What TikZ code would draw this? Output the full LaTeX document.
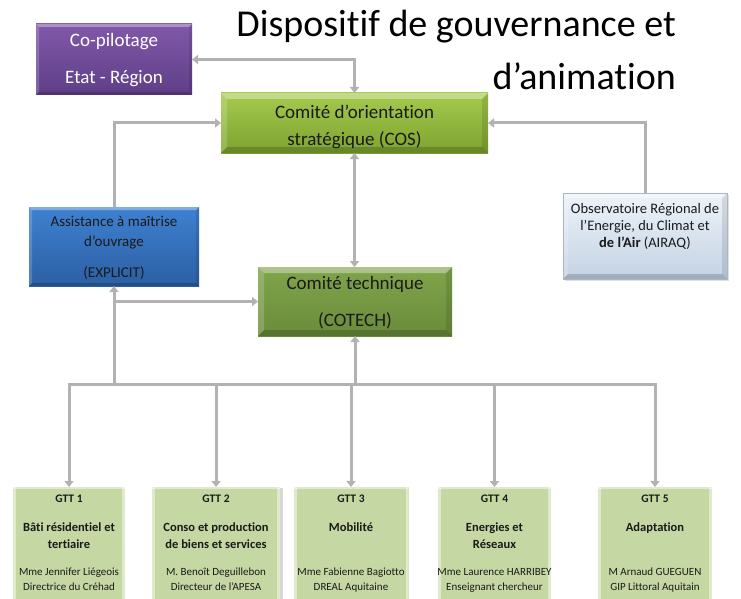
\documentclass[tikz,border=0pt]{standalone}
\usepackage{fontspec}
\setmainfont{Carlito}[Ligatures={TeX,CommonOff}]
\usetikzlibrary{arrows.meta,calc,shadows}

\definecolor{linkgray}{HTML}{B2B2B2}
\definecolor{copA}{HTML}{8059A9}
\definecolor{copB}{HTML}{5F3E87}
\definecolor{cosA}{HTML}{A5CA4C}
\definecolor{cosB}{HTML}{7DA331}
\definecolor{cotA}{HTML}{80A44B}
\definecolor{cotB}{HTML}{6A8C3B}
\definecolor{amoA}{HTML}{3E81D1}
\definecolor{amoB}{HTML}{2C5FA3}
\definecolor{obsA}{HTML}{EEF3F9}
\definecolor{obsB}{HTML}{C3D2E3}
\definecolor{obsLine}{HTML}{A6B7CA}
\definecolor{gttFill}{HTML}{C5D8A3}
\definecolor{inkdark}{HTML}{1A1A1A}

\tikzset{
  gtip/.tip={Triangle[width=9pt,length=6pt]},
  box/.style={rectangle, inner sep=0pt, outer sep=0pt},
  % light upper/left edges and darker lower/right edges of a bevelled box
  bevel/.style={path picture={
    \path (path picture bounding box.south west) coordinate (pA)
          (path picture bounding box.north east) coordinate (pB);
    \fill[white,opacity=.35] (pA|-pB) -- (pB) -- ($(pB)+(-#1,-#1)$) -- ($(pA|-pB)+(#1,-#1)$) -- cycle;
    \fill[white,opacity=.18] (pA) -- (pA|-pB) -- ($(pA|-pB)+(#1,-#1)$) -- ($(pA)+(#1,#1)$) -- cycle;
    \fill[black,opacity=.10] (pB|-pA) -- (pB) -- ($(pB)+(-#1,-#1)$) -- ($(pB|-pA)+(-#1,#1)$) -- cycle;
    \fill[black,opacity=.18] (pA) -- (pB|-pA) -- ($(pB|-pA)+(-#1,#1)$) -- ($(pA)+(#1,#1)$) -- cycle;
  }},
  gttbox/.style={box, fill=gttFill, minimum height=153pt, path picture={
    \path (path picture bounding box.south west) coordinate (pA)
          (path picture bounding box.north east) coordinate (pB);
    \fill[white,opacity=.45] (pA) rectangle ($(pA|-pB)+(3pt,0pt)$);
    \fill[white,opacity=.45] (pB) rectangle ($(pB|-pA)+(-3pt,0pt)$);
    \fill[white,opacity=.45] (pA|-pB) rectangle ($(pB)+(0pt,-2pt)$);
  }},
  link/.style={draw=linkgray, line width=3pt},
  % multi-line texts are placed by the baseline of their last line
  boxtext/.style={anchor=base, align=center, inner sep=0pt},
  gttnum/.style={boxtext, font=\fontsize{11.5}{14}\selectfont\bfseries, text=inkdark},
  gtttitle/.style={boxtext, font=\fontsize{12.5}{17}\selectfont\bfseries, text=inkdark},
  gttwho/.style={boxtext, font=\fontsize{11}{15}\selectfont, text=inkdark},
}

\begin{document}
\begin{tikzpicture}[x=1pt,y=-1pt]
\useasboundingbox[fill=white] (0,0) rectangle (741,599);

% title
\node[anchor=base east, inner sep=0pt, font=\fontsize{38}{44}\selectfont] (title1) at (676,37) {Dispositif de gouvernance et};
\node[anchor=base east, inner sep=0pt, font=\fontsize{38}{44}\selectfont] (title2) at (676,90) {d’animation};

% upper boxes
\node[box, bevel=3pt, top color=copA, bottom color=copB, minimum width=156pt, minimum height=71pt] (copil) at (114,59.5) {};
\node[boxtext, font=\fontsize{19}{37}\selectfont, text=white] (copil-t) at (114,84) {Co-pilotage\\Etat - Région};

\node[box, bevel=6pt, top color=cosA, bottom color=cosB, minimum width=267pt, minimum height=60pt] (cos) at (354.5,123) {};
\node[boxtext, font=\fontsize{19}{28}\selectfont, text=inkdark] (cos-t) at (354.5,146) {Comité d’orientation\\stratégique (COS)};

\node[box, bevel=3pt, top color=amoA, bottom color=amoB, minimum width=170pt, minimum height=79pt] (amo) at (114,246.5) {};
\node[boxtext, font=\fontsize{15}{20}\selectfont, text=inkdark] (amo-t) at (114,277) {Assistance à maîtrise\\d’ouvrage\\[11pt](EXPLICIT)};

\node[box, bevel=6pt, top color=cotA, bottom color=cotB, minimum width=194pt, minimum height=69pt] (cotech) at (355,301.5) {};
\node[boxtext, font=\fontsize{19}{37}\selectfont, text=inkdark] (cotech-t) at (355,326) {Comité technique\\(COTECH)};

\node[box, bevel=5pt, top color=obsA, bottom color=obsB, draw=obsLine, line width=.6pt,
      drop shadow={shadow xshift=2pt, shadow yshift=-2pt, opacity=.25},
      minimum width=164pt, minimum height=86pt] (obs) at (645,236) {};
\node[boxtext, font=\fontsize{14.5}{17}\selectfont, text=inkdark] (obs-t) at (645,247) {Observatoire Régional de\\l’Energie, du Climat et\\\textbf{de l’Air} (AIRAQ)};

% working groups
\node[gttbox, minimum width=112pt] (gtt1) at (69,563.5) {};
\node[gttbox, minimum width=128pt, drop shadow={shadow xshift=3pt, shadow yshift=-1pt, opacity=.3}] (gtt2) at (216,563.5) {};
\node[gttbox, minimum width=115pt] (gtt3) at (351,563.5) {};
\node[gttbox, minimum width=113pt] (gtt4) at (494.5,563.5) {};
\node[gttbox, minimum width=114pt] (gtt5) at (655,563.5) {};

\node[gttnum] (gtt1-n) at (69,502) {GTT 1};
\node[gtttitle] (gtt1-t) at (69,548) {Bâti résidentiel et\\tertiaire};
\node[gttwho] (gtt1-w) at (69,590) {Mme Jennifer Liégeois\\Directrice du Créhad};

\node[gttnum] (gtt2-n) at (216,502) {GTT 2};
\node[gtttitle] (gtt2-t) at (216,548) {Conso et production\\de biens et services};
\node[gttwho] (gtt2-w) at (216,590) {M. Benoît Deguillebon\\Directeur de l’APESA};

\node[gttnum] (gtt3-n) at (351,502) {GTT 3};
\node[gtttitle] (gtt3-t) at (351,531) {Mobilité};
\node[gttwho] (gtt3-w) at (351,590) {Mme Fabienne Bagiotto\\DREAL Aquitaine};

\node[gttnum] (gtt4-n) at (494.5,502) {GTT 4};
\node[gtttitle] (gtt4-t) at (494.5,548) {Energies et\\Réseaux};
\node[gttwho] (gtt4-w) at (494.5,590) {Mme Laurence HARRIBEY\\Enseignant chercheur};

\node[gttnum] (gtt5-n) at (655,502) {GTT 5};
\node[gtttitle] (gtt5-t) at (655,531) {Adaptation};
\node[gttwho] (gtt5-w) at (655,590) {M Arnaud GUEGUEN\\GIP Littoral Aquitain};

% connectors
\coordinate (busY) at (0,384);
\draw[link, gtip-gtip] (cos.north) |- (copil.east);
\draw[link, -gtip] (amo.north) |- (cos.west);
\draw[link, -gtip] (obs.north) |- (cos.east);
\draw[link, gtip-gtip] (cos.south) -- (cos.south|-cotech.north);
\draw[link, line cap=rect] (gtt1.north|-busY) -- (gtt5.north|-busY);
\draw[link, -gtip] (amo.south|-busY) -- (amo.south);
\draw[link, -gtip] (amo.south|-cotech.west) -- (cotech.west);
\draw[link, -gtip] (cotech.south|-busY) -- (cotech.south);
\foreach \g in {gtt1,gtt2,gtt3,gtt4,gtt5}
  \draw[link, -gtip] (\g.north|-busY) -- (\g.north);
\end{tikzpicture}
\end{document}
